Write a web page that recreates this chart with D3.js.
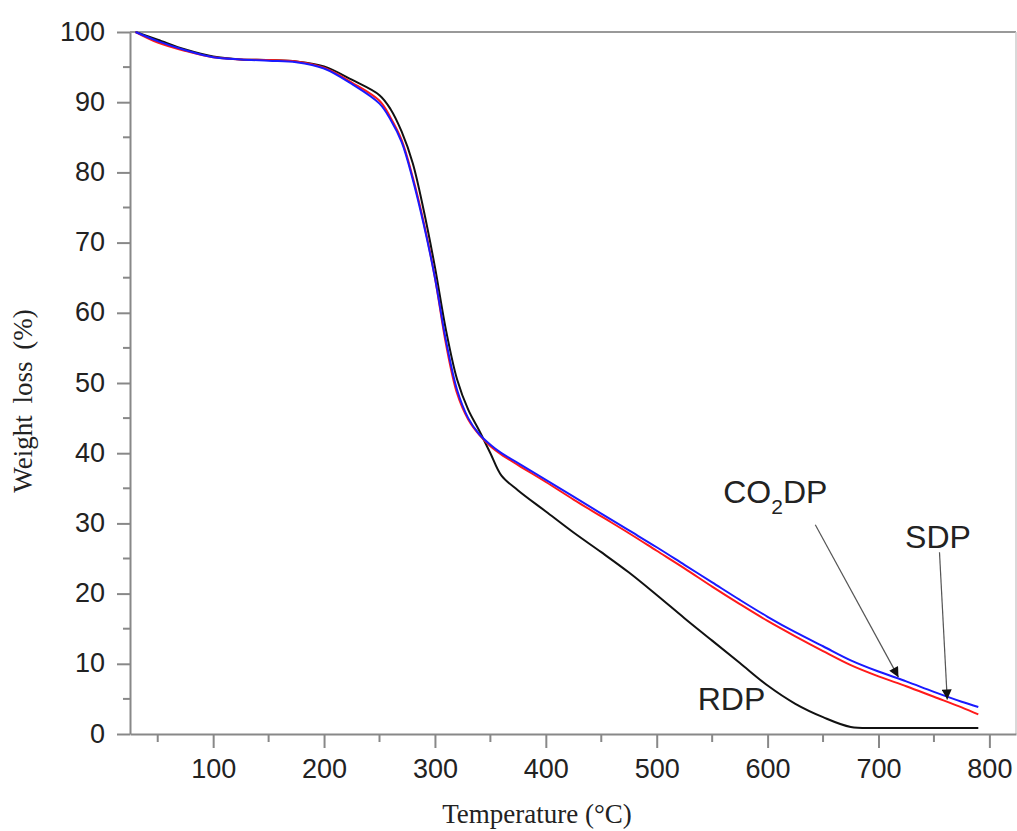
<!DOCTYPE html>
<html>
<head>
<meta charset="utf-8">
<script src="https://cdn.jsdelivr.net/npm/d3@7"></script>
<style>
  body { margin: 0; background: #fff; }
  .tick text { font-family: "Liberation Sans", Arial, sans-serif; font-size: 27px; fill: #222; }
  .axis path, .axis line { stroke: #888; }
</style>
</head>
<body>
<div id="chart"></div>
<script>
// TGA curves, weight (%) vs temperature (°C)
var temps = [30, 50, 75, 100, 125, 150, 175, 200, 225, 250, 260, 270, 280, 290, 300, 310, 320, 330, 340, 350,
             360, 375, 400, 425, 450, 475, 500, 525, 550, 575, 600, 625, 650, 675, 700, 725, 750, 775, 790];

var rdp = [100, 98.9, 97.5, 96.5, 96.1, 96.0, 95.8, 95.1, 93.2, 91.0, 89.0, 85.8, 81.3, 74.5, 66.5, 57.5, 50.5, 46.2, 43.2, 40.0,
           36.8, 34.7, 31.7, 28.7, 25.9, 23.0, 19.8, 16.5, 13.3, 10.1, 6.9, 4.3, 2.4, 1.0, 0.85, 0.85, 0.85, 0.85, 0.85];

var sdp = [100, 98.7, 97.4, 96.4, 96.1, 95.9, 95.7, 94.8, 92.6, 89.8, 87.5, 84.3, 79.0, 72.5, 65.0, 56.0, 49.0, 45.0, 42.7, 41.2,
           40.0, 38.6, 36.2, 33.8, 31.4, 29.0, 26.6, 24.1, 21.6, 19.1, 16.7, 14.5, 12.5, 10.5, 8.9, 7.5, 6.0, 4.6, 3.85];

var co2dp = [100, 98.5, 97.3, 96.4, 96.1, 96.0, 95.8, 94.9, 92.8, 90.2, 87.8, 84.6, 79.3, 72.8, 65.0, 55.5, 48.5, 44.8, 42.6, 41.0,
             39.8, 38.3, 35.9, 33.4, 31.0, 28.6, 26.1, 23.6, 21.0, 18.5, 16.1, 13.9, 11.8, 9.8, 8.2, 6.8, 5.3, 3.8, 2.8];

var xTicks = [100, 200, 300, 400, 500, 600, 700, 800];
var yTicks = [0, 10, 20, 30, 40, 50, 60, 70, 80, 90, 100];

var seriesColor = {
  'RDP' : '#111111',
  'SDP' : '#1a1aff',
  'CO2DP' : '#ff1a1a'
}

// label text position and arrow (from -> to), in data units
var labels = [
  {name: 'RDP', t: 537, v: 3.4, arrow: null},
  {name: 'CO2DP', t: 560, v: 32.9, arrow: [643, 29.8, 718, 8.1]},
  {name: 'SDP', t: 724, v: 26.5, arrow: [755, 25.9, 762, 4.9]}
];

var margin = {top: 32, right: 1, bottom: 97, left: 130};
var width = 1017 - margin.left - margin.right,
    height = 831 - margin.top - margin.bottom;

var svg = d3.select("#chart").append("svg")
    .attr("width", 1017)
    .attr("height", 831);
var g = svg.append("g").attr("transform", "translate(" + margin.left + "," + margin.top + ")");

var x = d3.scaleLinear().domain([25, 824]).range([0, width]);
var y = d3.scaleLinear().domain([0, 100]).range([height, 0]);

// frame top / right
g.append("line").attr("x1", 0).attr("x2", width).attr("y1", 0).attr("y2", 0)
    .attr("stroke", "#999").attr("stroke-width", 2);
g.append("line").attr("x1", width).attr("x2", width).attr("y1", 0).attr("y2", height)
    .attr("stroke", "#ccc").attr("stroke-width", 1.5);

// minor ticks
g.append("g")
  .selectAll("line")
  .data(d3.range(50, 824, 100))
  .enter().append("line")
    .attr("x1", function(d) { return x(d); })
    .attr("x2", function(d) { return x(d); })
    .attr("y1", height).attr("y2", height + 8)
    .attr("stroke", "#888").attr("stroke-width", 2);

g.append("g")
  .selectAll("line")
  .data(d3.range(5, 100, 10))
  .enter().append("line")
    .attr("y1", function(d) { return y(d); })
    .attr("y2", function(d) { return y(d); })
    .attr("x1", 0).attr("x2", -7)
    .attr("stroke", "#888").attr("stroke-width", 2);

var xAxis = g.append("g")
    .attr("class", "axis")
    .attr("transform", "translate(0," + height + ")")
    .call(d3.axisBottom(x).tickValues(xTicks).tickSize(14).tickPadding(11).tickSizeOuter(0));
xAxis.select(".domain").attr("stroke-width", 2);
xAxis.selectAll(".tick line").attr("stroke-width", 2);

var yAxis = g.append("g")
    .attr("class", "axis")
    .call(d3.axisLeft(y).tickValues(yTicks).tickSize(13).tickPadding(12).tickSizeOuter(0));
yAxis.select(".domain").attr("stroke-width", 2);
yAxis.selectAll(".tick line").attr("stroke-width", 2);
yAxis.selectAll(".tick text").attr("dy", "0.3em");

// curves
var series = [
  {name: 'RDP', values: rdp},
  {name: 'CO2DP', values: co2dp},
  {name: 'SDP', values: sdp}
];

var line = d3.line()
    .x(function(d) { return x(d[0]); })
    .y(function(d) { return y(d[1]); })
    .curve(d3.curveCatmullRom.alpha(0.5));

g.append("g")
  .selectAll("path")
  .data(series)
  .enter().append("path")
    .attr("fill", "none")
    .attr("stroke", function(d) { return seriesColor[d.name]; })
    .attr("stroke-width", 2)
    .attr("d", function(d) { return line(temps.map(function(t, i) { return [t, d.values[i]]; })); });

// arrows
svg.append("defs").append("marker")
    .attr("id", "head")
    .attr("viewBox", "0 0 10 10")
    .attr("refX", 10).attr("refY", 5)
    .attr("markerWidth", 15).attr("markerHeight", 10)
    .attr("markerUnits", "userSpaceOnUse")
    .attr("orient", "auto")
  .append("path")
    .attr("d", "M0,0 L10,5 L0,10 Z")
    .attr("fill", "#111");

labels.forEach(function(l) {
  if(l.arrow == null) return;
  g.append("line")
    .attr("x1", x(l.arrow[0])).attr("y1", y(l.arrow[1]))
    .attr("x2", x(l.arrow[2])).attr("y2", y(l.arrow[3]))
    .attr("stroke", "#555").attr("stroke-width", 1.2)
    .attr("marker-end", "url(#head)");
});

var lab = g.append("g")
  .selectAll("text")
  .data(labels)
  .enter().append("text")
    .attr("x", function(d) { return x(d.t); })
    .attr("y", function(d) { return y(d.v); })
    .attr("font-family", "'Liberation Sans', Arial, sans-serif")
    .attr("font-size", 32)
    .attr("fill", "#222");

lab.each(function(d) {
  var t = d3.select(this);
  if(d.name == 'CO2DP'){
    t.append("tspan").text("CO");
    t.append("tspan").attr("font-size", 21).attr("dy", 11).text("2");
    t.append("tspan").attr("dy", -11).text("DP");
  } else {
    t.text(d.name);
  }
});

// axis titles
svg.append("text")
    .attr("x", margin.left + width / 2 - 36)
    .attr("y", 823)
    .attr("text-anchor", "middle")
    .attr("font-family", "'Liberation Serif', 'Times New Roman', serif")
    .attr("font-size", 27)
    .attr("fill", "#222")
    .text("Temperature (°C)");

svg.append("text")
    .attr("transform", "translate(32," + (margin.top + height / 2 + 18) + ") rotate(-90)")
    .attr("text-anchor", "middle")
    .attr("font-family", "'Liberation Serif', 'Times New Roman', serif")
    .attr("font-size", 27)
    .attr("fill", "#222")
    .attr("word-spacing", 5)
    .text("Weight loss (%)");
</script>
</body>
</html>
